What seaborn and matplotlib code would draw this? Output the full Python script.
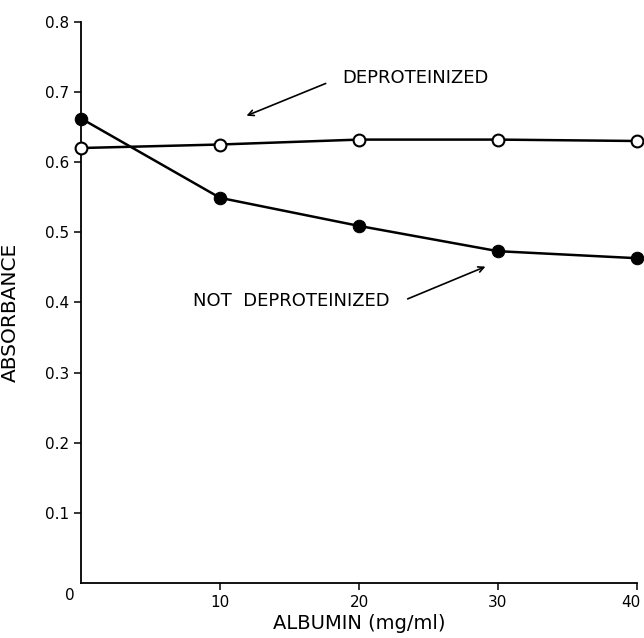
import numpy as np
import pandas as pd
import matplotlib
matplotlib.use("Agg")
import matplotlib.pyplot as plt
import matplotlib.transforms as mtrans
import seaborn as sns

# albumin concentration (mg/ml)
albumin = [0, 10, 20, 30, 40]
# absorbance readings
deproteinized = [0.620, 0.625, 0.632, 0.632, 0.630]
not_deproteinized = [0.662, 0.549, 0.509, 0.473, 0.463]

x_ticks = [10, 20, 30, 40]
y_ticks = [0.1, 0.2, 0.3, 0.4, 0.5, 0.6, 0.7, 0.8]
y_tick_labels = ["0.1", "0.2", "0.3", "0.4", "0.5", "0.6", "0.7", "0.8"]

df = pd.DataFrame({
    "albumin": albumin * 2,
    "absorbance": deproteinized + not_deproteinized,
    "group": ["DEPROTEINIZED"] * 5 + ["NOT DEPROTEINIZED"] * 5,
})

sns.set_style("ticks")
plt.rcParams["font.family"] = ["DejaVu Sans"]
plt.rcParams["text.color"] = "black"
plt.rcParams["axes.labelcolor"] = "black"

fig = plt.figure(figsize=(6.44, 6.38), dpi=100)
ax = fig.add_axes([0.126, 0.086, 0.863, 0.880])

dep = df[df.group == "DEPROTEINIZED"]
nodep = df[df.group == "NOT DEPROTEINIZED"]
sns.lineplot(data=nodep, x="albumin", y="absorbance", ax=ax, color="black",
             lw=1.8, marker="o", markersize=9, markerfacecolor="black",
             markeredgecolor="black", zorder=3)
sns.lineplot(data=dep, x="albumin", y="absorbance", ax=ax, color="black",
             lw=1.8, marker="o", markersize=8.5, markerfacecolor="white",
             markeredgecolor="black", markeredgewidth=1.5, zorder=4)

ax.set_xlim(0, 40)
ax.set_ylim(0, 0.8)
ax.set_xticks(x_ticks)
ax.set_xticklabels([str(t) for t in x_ticks])
ax.set_yticks(y_ticks)
ax.set_yticklabels(y_tick_labels)
ax.tick_params(axis="both", direction="out", length=5, width=1.1,
               labelsize=11, color="black", labelcolor="black")
for s in ["top", "right"]:
    ax.spines[s].set_visible(False)
for s in ["left", "bottom"]:
    ax.spines[s].set_linewidth(1.3)
    ax.spines[s].set_color("black")
for l in ax.lines:
    l.set_clip_on(False)

# nudge the last x label so it stays inside the canvas
lab40 = ax.get_xticklabels()[-1]
lab40.set_transform(lab40.get_transform()
                    + mtrans.ScaledTranslation(-6 / 100, 0, fig.dpi_scale_trans))

ax.text(-0.5, -0.007, "0", ha="right", va="top", fontsize=11)

ax.set_xlabel("ALBUMIN (mg/ml)", fontsize=14)
ax.set_ylabel("ABSORBANCE", fontsize=14.5)
ax.yaxis.set_label_coords(-0.11, 0.483)
ax.xaxis.labelpad = 3

ax.text(18.8, 0.720, "DEPROTEINIZED", fontsize=13, va="center", ha="left")
ax.annotate("", xy=(11.9, 0.666), xytext=(17.6, 0.712),
            arrowprops=dict(arrowstyle="->", color="black", lw=1.2,
                            shrinkA=0, shrinkB=0))
ax.text(8.06, 0.402, "NOT  DEPROTEINIZED", fontsize=13, va="center", ha="left")
ax.annotate("", xy=(29.1, 0.451), xytext=(23.5, 0.405),
            arrowprops=dict(arrowstyle="->", color="black", lw=1.2,
                            shrinkA=0, shrinkB=0))

fig.savefig("out.png", dpi=100)
